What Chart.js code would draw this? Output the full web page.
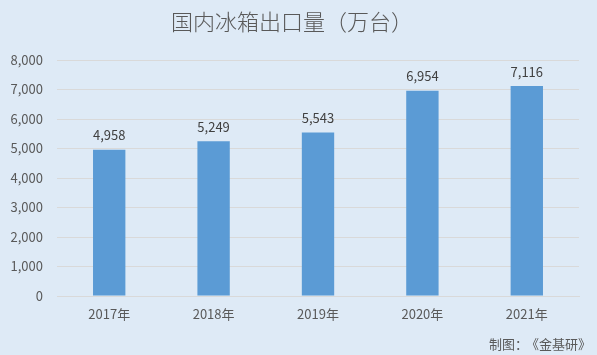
<!DOCTYPE html>
<html><head><meta charset="utf-8">
<script src="https://cdn.jsdelivr.net/npm/chart.js@4/dist/chart.umd.min.js"></script>
<style>html,body{margin:0;padding:0;background:#deeaf6;}#wrap{width:597px;height:355px;position:relative;}</style>
</head><body><div id="wrap"><canvas id="c" width="597" height="355"></canvas></div>
<script>
const categories = ['2017年','2018年','2019年','2020年','2021年'];
const values = [4958, 5249, 5543, 6954, 7116];
const titleText = '国内冰箱出口量（万台）';
const sourceText = '制图：《金基研》';
const FONT = '"Noto Sans CJK SC", "Microsoft YaHei", sans-serif';

const overlay = {
  id: 'overlay',
  afterDatasetsDraw(chart) {
    const ctx = chart.ctx;
    const meta = chart.getDatasetMeta(0);
    ctx.save();
    ctx.font = '13px ' + FONT;
    ctx.fillStyle = '#404040';
    ctx.textAlign = 'center';
    ctx.textBaseline = 'bottom';
    meta.data.forEach((bar, i) => {
      ctx.fillText(values[i].toLocaleString('en-US'), bar.x, bar.y - 8);
    });
    ctx.font = '300 22px ' + FONT;
    ctx.fillStyle = '#595959';
    ctx.textBaseline = 'middle';
    ctx.fillText(titleText, 292, 22);
    ctx.font = '13px ' + FONT;
    ctx.textAlign = 'right';
    ctx.fillText('制图：', 528, 344);
    ctx.fillText('《金基研》', 591, 344);
    ctx.restore();
  }
};

new Chart(document.getElementById('c'), {
  type: 'bar',
  data: { labels: categories, datasets: [{ data: values, backgroundColor: '#5b9bd5', barPercentage: 0.31, categoryPercentage: 1 }] },
  options: {
    responsive: false, animation: false,
    layout: { padding: { top: 60, right: 18, bottom: 19, left: 0 } },
    plugins: { legend: { display: false }, tooltip: { enabled: false } },
    scales: {
      x: {
        grid: { display: false, drawTicks: false },
        border: { color: '#d9d9d9' },
        ticks: { color: '#595959', font: { family: FONT, size: 13 }, padding: 10 },
        afterFit(s) { s.height = 40; }
      },
      y: {
        min: 0, max: 8000,
        grid: { color: '#d9d9d9', drawTicks: false },
        border: { display: false },
        ticks: { stepSize: 1000, color: '#595959', font: { family: FONT, size: 13 }, padding: 14,
          callback: v => v.toLocaleString('en-US') },
        afterFit(s) { s.width = 57; }
      }
    }
  },
  plugins: [overlay]
});
</script></body></html>
